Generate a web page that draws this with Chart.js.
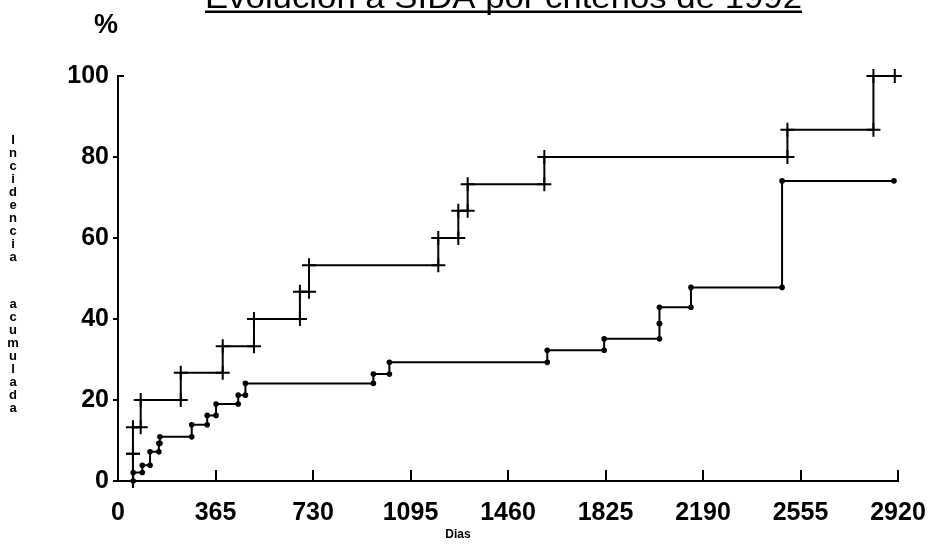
<!DOCTYPE html>
<html>
<head>
<meta charset="utf-8">
<title>Evolución a SIDA por criterios de 1992</title>
<script src="https://cdn.jsdelivr.net/npm/chart.js@4/dist/chart.umd.min.js"></script>
<style>
  html, body { margin: 0; padding: 0; background: #fff; }
  #wrap { width: 930px; height: 550px; }
</style>
</head>
<body>
<div id="wrap"><canvas id="sidaChart" width="930" height="550"></canvas></div>
<script>
// Grupo con cruces: día de cada evento y % acumulado tras él
const cruzDias = [56, 56, 85, 235, 392, 509, 681, 715, 1199, 1274, 1309, 1596, 2506, 2828];
const cruzPct = [6.7, 13.3, 20, 26.7, 33.3, 40, 46.7, 53.3, 60, 66.7, 73.3, 80, 86.7, 100];
const cruzFinal = 2931;
const cruzCensura = [2908];

// Grupo con puntos
const puntoDias = [57, 91, 120, 153, 157, 276, 334, 367, 450, 477, 956, 1016, 1607, 1820, 2027, 2027, 2145, 2486];
const puntoPct = [2.1, 3.9, 7.2, 9.3, 10.9, 13.9, 16.2, 19.0, 21.2, 24.1, 26.4, 29.3, 32.3, 35.1, 38.9, 42.9, 47.8, 74.1];
const puntoFinal = 2905;

const diasTicks = [0, 365, 730, 1095, 1460, 1825, 2190, 2555, 2920];
const pctTicks = [0, 20, 40, 60, 80, 100];

const titulo = 'Evolución a SIDA por criterios de 1992';
const tituloY = 'Incidencia acumulada';
const tituloX = 'Dias';

const fuente = '"Liberation Sans", Arial, Helvetica, sans-serif';
Chart.defaults.font.family = fuente;

// curva escalonada: arranca en 0 y se prolonga hasta el último día observado
function escalera(dias, pct, fin) {
    const pts = [{ x: 0, y: 0 }];
    dias.forEach((d, i) => pts.push({ x: d, y: pct[i] }));
    pts.push({ x: fin, y: pct[pct.length - 1] });
    return pts;
}

// marcas en ambas esquinas de cada salto
function esquinas(dias, pct) {
    const pts = [];
    dias.forEach((d, i) => {
        pts.push({ x: d, y: i === 0 ? 0 : pct[i - 1] });
        pts.push({ x: d, y: pct[i] });
    });
    return pts;
}

const marcasCruz = esquinas(cruzDias, cruzPct)
    .concat(cruzCensura.map(d => ({ x: d, y: cruzPct[cruzPct.length - 1] })));
const marcasPunto = esquinas(puntoDias, puntoPct)
    .concat([{ x: puntoFinal, y: puntoPct[puntoPct.length - 1] }]);

const decoraciones = {
    id: 'decoraciones',
    afterDraw(chart) {
        const ctx = chart.ctx;
        const sx = chart.scales.x, sy = chart.scales.y;
        ctx.save();
        ctx.strokeStyle = '#000';
        ctx.fillStyle = '#000';
        ctx.lineWidth = 2;

        // marcas del eje X hacia dentro
        ctx.beginPath();
        diasTicks.forEach(v => {
            if (v === 0) return;
            const px = Math.round(sx.getPixelForValue(v));
            ctx.moveTo(px, sy.bottom);
            ctx.lineTo(px, sy.bottom - 11);
        });
        // la marca de 100 va hacia la derecha
        const p100 = Math.round(sy.getPixelForValue(100));
        ctx.moveTo(sx.left - 1, p100);
        ctx.lineTo(sx.left + 6, p100);
        ctx.stroke();

        // título subrayado
        ctx.font = '31px ' + fuente;
        ctx.textAlign = 'left';
        ctx.textBaseline = 'alphabetic';
        const w = ctx.measureText(titulo).width;
        const ancho = 597;
        ctx.save();
        ctx.translate(205, 8);
        ctx.scale(ancho / w, 1);
        ctx.fillText(titulo, 0, 0);
        ctx.restore();
        ctx.fillRect(205, 10.5, ancho, 2.5);

        // unidad
        ctx.font = 'bold 27px ' + fuente;
        ctx.textAlign = 'center';
        ctx.textBaseline = 'middle';
        ctx.fillText('%', 106, 26);

        // rótulo del eje X
        ctx.font = 'bold 12px ' + fuente;
        ctx.fillText(tituloX, 458, 535);

        // título vertical, letra a letra
        ctx.font = 'bold 13px ' + fuente;
        let yy = 140;
        for (const ch of tituloY) {
            if (ch === ' ') { yy += 34; continue; }
            ctx.fillText(ch, 13, yy);
            yy += 13;
        }
        ctx.restore();
    }
};

const fuenteTicks = { family: fuente, size: 25, weight: 'bold' };

new Chart(document.getElementById('sidaChart'), {
    type: 'line',
    data: {
        datasets: [
            {
                data: escalera(cruzDias, cruzPct, cruzFinal),
                stepped: 'before',
                borderColor: '#000',
                borderWidth: 2,
                pointRadius: 0,
                clip: false
            },
            {
                type: 'scatter',
                data: marcasCruz,
                pointStyle: 'cross',
                pointRadius: 7,
                borderColor: '#000',
                borderWidth: 2,
                showLine: false,
                clip: false
            },
            {
                data: escalera(puntoDias, puntoPct, puntoFinal),
                stepped: 'before',
                borderColor: '#000',
                borderWidth: 2,
                pointRadius: 0,
                clip: false
            },
            {
                type: 'scatter',
                data: marcasPunto,
                pointStyle: 'circle',
                pointRadius: 2.8,
                backgroundColor: '#000',
                borderColor: '#000',
                borderWidth: 0,
                showLine: false,
                clip: false
            }
        ]
    },
    options: {
        responsive: false,
        animation: false,
        events: [],
        layout: { padding: { top: 76, right: 32, left: 0, bottom: 0 } },
        plugins: {
            legend: { display: false },
            tooltip: { enabled: false }
        },
        scales: {
            x: {
                type: 'linear',
                min: 0,
                max: 2920,
                afterBuildTicks: s => { s.ticks = diasTicks.map(v => ({ value: v })); },
                ticks: {
                    color: '#000', font: fuenteTicks, padding: 17, maxRotation: 0, autoSkip: false,
                    callback: v => String(v)
                },
                grid: { display: false, drawTicks: false },
                border: { display: true, color: '#000', width: 2 },
                afterFit: s => { s.height = 69; s.paddingLeft = 0; s.paddingRight = 0; }
            },
            y: {
                min: 0,
                max: 100,
                afterBuildTicks: s => { s.ticks = pctTicks.map(v => ({ value: v })); },
                ticks: { color: '#000', font: fuenteTicks, padding: 4, callback: v => String(v) },
                grid: {
                    drawOnChartArea: false,
                    tickLength: 5,
                    lineWidth: 2,
                    color: c => (c.tick && c.tick.value === 100) ? 'rgba(0,0,0,0)' : '#000'
                },
                border: { color: '#000', width: 2 },
                afterFit: s => { s.width = 118; s.paddingTop = 0; s.paddingBottom = 0; }
            }
        }
    },
    plugins: [decoraciones]
});
</script>
</body>
</html>
